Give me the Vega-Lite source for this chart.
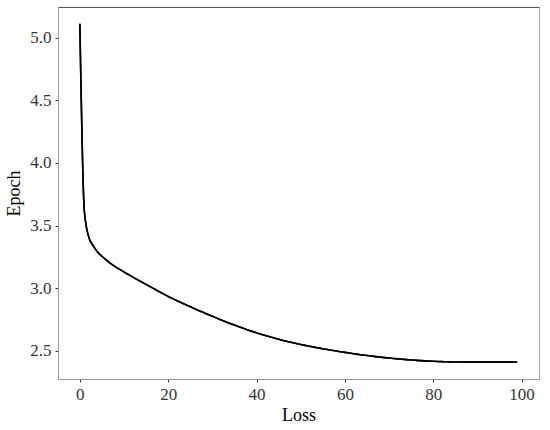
{
  "$schema": "https://vega.github.io/schema/vega-lite/v6.json",
  "width": 481,
  "height": 372,
  "autosize": {"type": "none"},
  "padding": {"left": 58, "top": 7, "right": 11, "bottom": 51},
  "background": "white",
  "config": {
    "font": "Liberation Serif",
    "view": {"stroke": "#aaaaaa", "strokeWidth": 1},
    "axis": {
      "grid": false,
      "domainColor": "#999999",
      "tickColor": "#333333",
      "tickSize": 3,
      "labelFont": "Liberation Serif",
      "labelFontSize": 17,
      "labelColor": "#333333",
      "titleFont": "Liberation Serif",
      "titleFontSize": 18,
      "titleFontWeight": "normal",
      "titleColor": "#000000"
    }
  },
  "data": {
    "values": [
      {"loss": 0, "epoch": 5.11}, {"loss": 1, "epoch": 3.62}, {"loss": 2, "epoch": 3.41}, {"loss": 3, "epoch": 3.34},
      {"loss": 4, "epoch": 3.29}, {"loss": 5, "epoch": 3.255}, {"loss": 6, "epoch": 3.225}, {"loss": 7, "epoch": 3.197},
      {"loss": 8, "epoch": 3.172}, {"loss": 9, "epoch": 3.15}, {"loss": 10, "epoch": 3.129}, {"loss": 11, "epoch": 3.109},
      {"loss": 12, "epoch": 3.089}, {"loss": 13, "epoch": 3.069}, {"loss": 14, "epoch": 3.0495}, {"loss": 15, "epoch": 3.03},
      {"loss": 16, "epoch": 3.011}, {"loss": 17, "epoch": 2.9915}, {"loss": 18, "epoch": 2.972}, {"loss": 19, "epoch": 2.953},
      {"loss": 20, "epoch": 2.934}, {"loss": 21, "epoch": 2.917}, {"loss": 22, "epoch": 2.9003}, {"loss": 23, "epoch": 2.8839},
      {"loss": 24, "epoch": 2.8678}, {"loss": 25, "epoch": 2.852}, {"loss": 26, "epoch": 2.8364}, {"loss": 27, "epoch": 2.821},
      {"loss": 28, "epoch": 2.8058}, {"loss": 29, "epoch": 2.7908}, {"loss": 30, "epoch": 2.776}, {"loss": 31, "epoch": 2.7614},
      {"loss": 32, "epoch": 2.747}, {"loss": 33, "epoch": 2.7329}, {"loss": 34, "epoch": 2.7191}, {"loss": 35, "epoch": 2.7056},
      {"loss": 36, "epoch": 2.6925}, {"loss": 37, "epoch": 2.6798}, {"loss": 38, "epoch": 2.6675}, {"loss": 39, "epoch": 2.6556},
      {"loss": 40, "epoch": 2.6441}, {"loss": 41, "epoch": 2.633}, {"loss": 42, "epoch": 2.6223}, {"loss": 43, "epoch": 2.612},
      {"loss": 44, "epoch": 2.6021}, {"loss": 45, "epoch": 2.5926}, {"loss": 46, "epoch": 2.5835}, {"loss": 47, "epoch": 2.5748},
      {"loss": 48, "epoch": 2.5665}, {"loss": 49, "epoch": 2.5586}, {"loss": 50, "epoch": 2.5511}, {"loss": 51, "epoch": 2.5439},
      {"loss": 52, "epoch": 2.5369}, {"loss": 53, "epoch": 2.5301}, {"loss": 54, "epoch": 2.5235}, {"loss": 55, "epoch": 2.5171},
      {"loss": 56, "epoch": 2.5109}, {"loss": 57, "epoch": 2.5048}, {"loss": 58, "epoch": 2.4989}, {"loss": 59, "epoch": 2.4932},
      {"loss": 60, "epoch": 2.4877}, {"loss": 61, "epoch": 2.4824}, {"loss": 62, "epoch": 2.4773}, {"loss": 63, "epoch": 2.4723},
      {"loss": 64, "epoch": 2.4675}, {"loss": 65, "epoch": 2.4629}, {"loss": 66, "epoch": 2.4585}, {"loss": 67, "epoch": 2.4543},
      {"loss": 68, "epoch": 2.4503}, {"loss": 69, "epoch": 2.4464}, {"loss": 70, "epoch": 2.4427}, {"loss": 71, "epoch": 2.4392},
      {"loss": 72, "epoch": 2.4359}, {"loss": 73, "epoch": 2.4328}, {"loss": 74, "epoch": 2.4299}, {"loss": 75, "epoch": 2.4272},
      {"loss": 76, "epoch": 2.4247}, {"loss": 77, "epoch": 2.4224}, {"loss": 78, "epoch": 2.4203}, {"loss": 79, "epoch": 2.4184},
      {"loss": 80, "epoch": 2.4167}, {"loss": 81, "epoch": 2.4152}, {"loss": 82, "epoch": 2.4139}, {"loss": 83, "epoch": 2.4128},
      {"loss": 84, "epoch": 2.4119}, {"loss": 85, "epoch": 2.4112}, {"loss": 86, "epoch": 2.4107}, {"loss": 87, "epoch": 2.4104},
      {"loss": 88, "epoch": 2.4102}, {"loss": 89, "epoch": 2.4101}, {"loss": 90, "epoch": 2.41}, {"loss": 91, "epoch": 2.41},
      {"loss": 92, "epoch": 2.41}, {"loss": 93, "epoch": 2.41}, {"loss": 94, "epoch": 2.41}, {"loss": 95, "epoch": 2.41},
      {"loss": 96, "epoch": 2.41}, {"loss": 97, "epoch": 2.41}, {"loss": 98, "epoch": 2.41}, {"loss": 99, "epoch": 2.41}
    ]
  },
  "layer": [
    {
      "mark": {"type": "line", "color": "#000000", "strokeWidth": 1.6, "interpolate": "monotone"},
      "encoding": {
        "x": {
          "field": "loss", "type": "quantitative", "title": "Loss",
          "scale": {"domain": [-4.95, 103.95], "nice": false, "zero": false},
          "axis": {"values": [0, 20, 40, 60, 80, 100], "labelPadding": 4, "titlePadding": 4}
        },
        "y": {
          "field": "epoch", "type": "quantitative", "title": "Epoch",
          "scale": {"domain": [2.2755, 5.2445], "nice": false, "zero": false},
          "axis": {"values": [2.5, 3.0, 3.5, 4.0, 4.5, 5.0], "format": ".1f", "labelPadding": 4, "titlePadding": 6}
        }
      }
    },
    {
      "mark": {"type": "line", "color": "#000000", "strokeWidth": 1.6, "interpolate": "monotone"},
      "encoding": {
        "x": {
          "field": "loss", "type": "quantitative",
          "axis": {"orient": "top", "labels": false, "ticks": false, "title": null, "domainColor": "#555555"}
        },
        "y": {"field": "epoch", "type": "quantitative"}
      }
    }
  ],
  "resolve": {"axis": {"x": "independent"}}
}
